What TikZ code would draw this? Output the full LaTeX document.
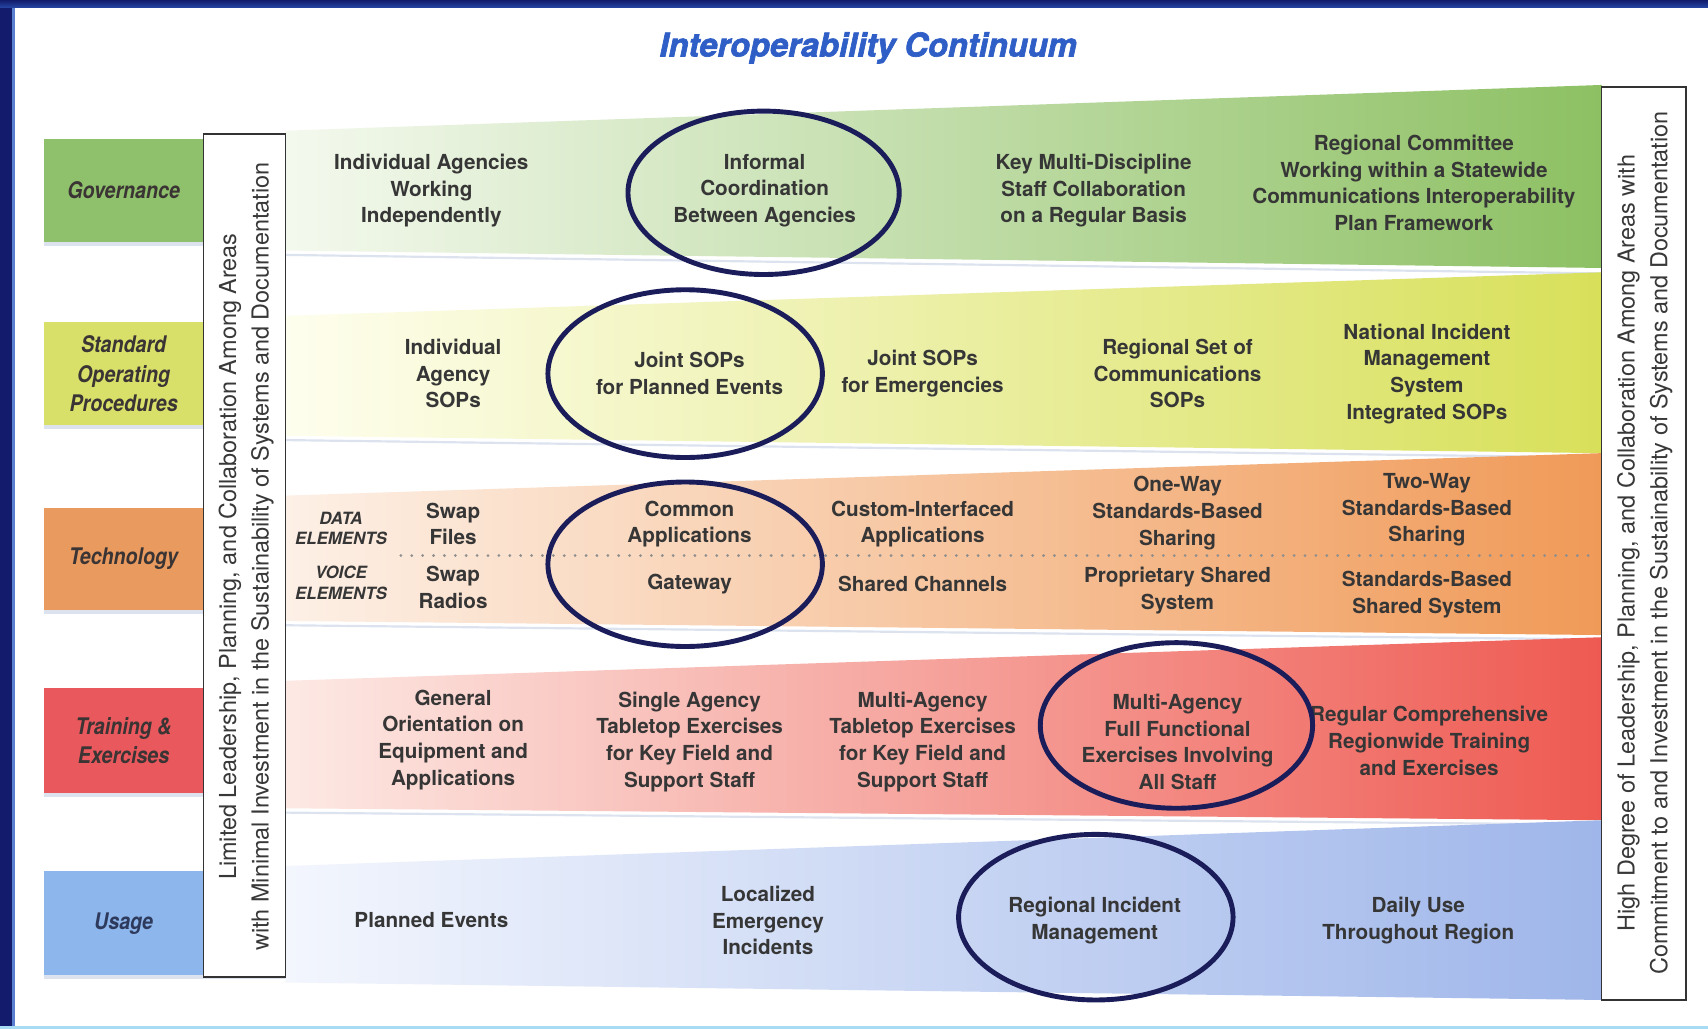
\documentclass[tikz,border=0pt]{standalone}
\usepackage{fontspec}
\setmainfont{TeX Gyre Heros}
\newfontfamily\labfont[FakeStretch=0.86]{TeX Gyre Heros}
\newfontfamily\titlefont[FakeBold=2]{TeX Gyre Heros}
\usetikzlibrary{shapes.geometric}
\definecolor{txt}{HTML}{363636}
\definecolor{labtxt}{HTML}{3A3434}
\definecolor{titleblue}{HTML}{2F5FC6}
\definecolor{ringc}{HTML}{1B1D5A}
\definecolor{govc}{HTML}{8FC06B}
\definecolor{sopc}{HTML}{D9E06A}
\definecolor{tecc}{HTML}{E99A5E}
\definecolor{trac}{HTML}{E9585C}
\definecolor{usac}{HTML}{8DB6EC}
\definecolor{govL}{HTML}{F4F9EE}
\definecolor{govM}{HTML}{DAEACA}
\definecolor{govR}{HTML}{8DC063}
\definecolor{sopL}{HTML}{FEFEEE}
\definecolor{sopM}{HTML}{F8F4B0}
\definecolor{sopR}{HTML}{D8E05A}
\definecolor{tecL}{HTML}{FDF0E6}
\definecolor{tecM}{HTML}{F9CDAA}
\definecolor{tecR}{HTML}{F09A58}
\definecolor{traL}{HTML}{FDE9E4}
\definecolor{traM}{HTML}{F7AC9C}
\definecolor{traR}{HTML}{EE5A52}
\definecolor{usaL}{HTML}{F3F6FD}
\definecolor{usaM}{HTML}{D8E1F7}
\definecolor{usaR}{HTML}{9FB6EA}
\definecolor{shadowc}{HTML}{DCE3EF}
\definecolor{navyband}{HTML}{121B6C}
\definecolor{topband}{HTML}{2443A0}
\definecolor{stripec}{HTML}{5B7FD0}
\definecolor{bottomc}{HTML}{A8DCF5}
\definecolor{dotc}{HTML}{8E8E8E}
\definecolor{usatxt}{HTML}{2E3A5C}
\begin{document}
\begin{tikzpicture}[x=1pt,y=-1pt,
  body/.style={font=\bfseries\fontsize{19}{24.5}\selectfont, text=txt, align=center, inner sep=0pt},
  elem/.style={font=\bfseries\itshape\fontsize{15.5}{19}\selectfont, text=txt, align=center, inner sep=0pt},
  labbox/.style={rectangle, minimum width=147pt, font=\labfont\bfseries\itshape\fontsize{21}{27}\selectfont, text=labtxt, align=center, inner sep=0pt},
  bracket/.style={rectangle, draw=black!80, line width=1.4pt, fill=white},
  brtext/.style={rotate=90, font=\fontsize{21.5}{30}\selectfont, text=black!78, align=center, inner sep=0pt},
  ring/.style={ellipse, draw=ringc, line width=4.5pt, inner sep=0pt},
  title/.style={font=\titlefont\bfseries\itshape\fontsize{30}{36}\selectfont, text=titleblue, inner sep=0pt}
]
\useasboundingbox (0,0) rectangle (1568,944.6);
\fill[white] (0,0) rectangle (1568,944.6);

% borders
\fill[navyband] (0,0) rectangle (11,944.6);
\fill[stripec] (11,0) rectangle (14,944.6);
\shade[top color=navyband, bottom color=topband] (0,0) rectangle (1568,6.5);
\fill[bottomc] (0,941.6) rectangle (1568,944.6);

% title
\node[title] (title) at (797,44) {Interoperability Continuum};

% band shadows
\fill[shadowc] (262,233) -- (1470,250) -- (1470,252) -- (262,235) -- cycle;
\fill[shadowc] (40,222) rectangle (187,226);
\fill[shadowc] (262,403) -- (1470,419) -- (1470,421) -- (262,405) -- cycle;
\fill[shadowc] (40,390) rectangle (187,394);
\fill[shadowc] (262,573) -- (1470,586) -- (1470,588) -- (262,575) -- cycle;
\fill[shadowc] (40,560) rectangle (187,564);
\fill[shadowc] (262,745) -- (1470,756) -- (1470,758) -- (262,747) -- cycle;
\fill[shadowc] (40,728) rectangle (187,732);
\fill[shadowc] (40,895) rectangle (1470,899);

% bands
\shade[left color=govL, middle color=govM, right color=govR] (262,120) -- (1470,78) -- (1470,246) -- (262,230) -- cycle;
\shade[left color=sopL, middle color=sopM, right color=sopR] (262,290) -- (1470,250) -- (1470,416) -- (262,400) -- cycle;
\shade[left color=tecL, middle color=tecM, right color=tecR] (262,455) -- (1470,416) -- (1470,583) -- (262,570) -- cycle;
\shade[left color=traL, middle color=traM, right color=traR] (262,625) -- (1470,585) -- (1470,753) -- (262,742) -- cycle;
\shade[left color=usaL, middle color=usaM, right color=usaR] (262,795) -- (1470,753) -- (1470,918) -- (262,902) -- cycle;

% row labels
\node[labbox, fill=govc, minimum height=94pt] (lgov) at (113.5,175) {Governance};
\node[labbox, fill=sopc, minimum height=94pt] (lsop) at (113.5,343) {Standard\\Operating\\Procedures};
\node[labbox, fill=tecc, minimum height=94pt] (ltec) at (113.5,513) {Technology};
\node[labbox, fill=trac, minimum height=96pt] (ltra) at (113.5,680) {Training \&\\Exercises};
\node[labbox, fill=usac, minimum height=95pt, text=usatxt] (lusa) at (113.5,847.5) {Usage};

% bracket boxes
\node[bracket, minimum width=75pt, minimum height=774pt] (lbox) at (224.5,510) {};
\node[brtext] (ltext) at (226,511) {Limited Leadership, Planning, and Collaboration Among Areas\\with Minimal Investment in the Sustainability of Systems and Documentation};
\node[bracket, minimum width=78pt, minimum height=838pt] (rbox) at (1509,499) {};
\node[brtext] (rtext) at (1510,498.5) {High Degree of Leadership, Planning, and Collaboration Among Areas with\\Commitment to and Investment in the Sustainability of Systems and Documentation};

% dotted divider in technology row
\coordinate (dotA) at (368,510);
\coordinate (dotB) at (1465,510);
\draw[dotc, line width=2.8pt, line cap=round, dash pattern=on 0pt off 10pt] (dotA) -- (dotB);

% governance row
\node[body] (g1) at (396,175) {Individual Agencies\\Working\\Independently};
\node[body] (g2) at (702,175) {Informal\\Coordination\\Between Agencies};
\node[body] (g3) at (1004,175) {Key Multi-Discipline\\Staff Collaboration\\on a Regular Basis};
\node[body] (g4) at (1298,168) {Regional Committee\\Working within a Statewide\\Communications Interoperability\\Plan Framework};

% SOP row
\node[body] (s1) at (416,343) {Individual\\Agency\\SOPs};
\node[body] (s2) at (633,343) {Joint SOPs\\for Planned Events};
\node[body] (s3) at (847,343) {Joint SOPs\\for Emergencies};
\node[body] (s4) at (1081,343) {Regional Set of\\Communications\\SOPs};
\node[body] (s5) at (1310,343) {National Incident\\Management\\System\\Integrated SOPs};

% technology row
\node[elem] (ed) at (313,485) {DATA\\ELEMENTS};
\node[elem] (ev) at (313,535) {VOICE\\ELEMENTS};
\node[body] (t1a) at (416,481) {Swap\\Files};
\node[body] (t1b) at (416,539) {Swap\\Radios};
\node[body] (t2a) at (633,481) {Common\\Applications};
\node[body] (t2b) at (633,536) {Gateway};
\node[body] (t3a) at (847,481) {Custom-Interfaced\\Applications};
\node[body] (t3b) at (847,536) {Shared Channels};
\node[body] (t4a) at (1081,471) {One-Way\\Standards-Based\\Sharing};
\node[body] (t4b) at (1081,542) {Proprietary Shared\\System};
\node[body] (t5a) at (1310,468) {Two-Way\\Standards-Based\\Sharing};
\node[body] (t5b) at (1310,546) {Standards-Based\\Shared System};

% training row
\node[body] (r1) at (416,679) {General\\Orientation on\\Equipment and\\Applications};
\node[body] (r2) at (633,681) {Single Agency\\Tabletop Exercises\\for Key Field and\\Support Staff};
\node[body] (r3) at (847,681) {Multi-Agency\\Tabletop Exercises\\for Key Field and\\Support Staff};
\node[body] (r4) at (1081,681) {Multi-Agency\\Full Functional\\Exercises Involving\\All Staff};
\node[body] (r5) at (1312,680) {Regular Comprehensive\\Regionwide Training\\and Exercises};

% usage row
\node[body] (u1) at (396,845) {Planned Events};
\node[body] (u2) at (705,845) {Localized\\Emergency\\Incidents};
\node[body] (u3) at (1005,845) {Regional Incident\\Management};
\node[body] (u4) at (1302,845) {Daily Use\\Throughout Region};

% rings
\node[ring, minimum width=249pt, minimum height=150pt] (e1) at (701,177) {};
\node[ring, minimum width=252pt, minimum height=154pt] (e2) at (629,343) {};
\node[ring, minimum width=252pt, minimum height=151pt] (e3) at (629,518) {};
\node[ring, minimum width=250pt, minimum height=152pt] (e4) at (1080,666) {};
\node[ring, minimum width=252pt, minimum height=152pt] (e5) at (1006,842) {};
\end{tikzpicture}
\end{document}
